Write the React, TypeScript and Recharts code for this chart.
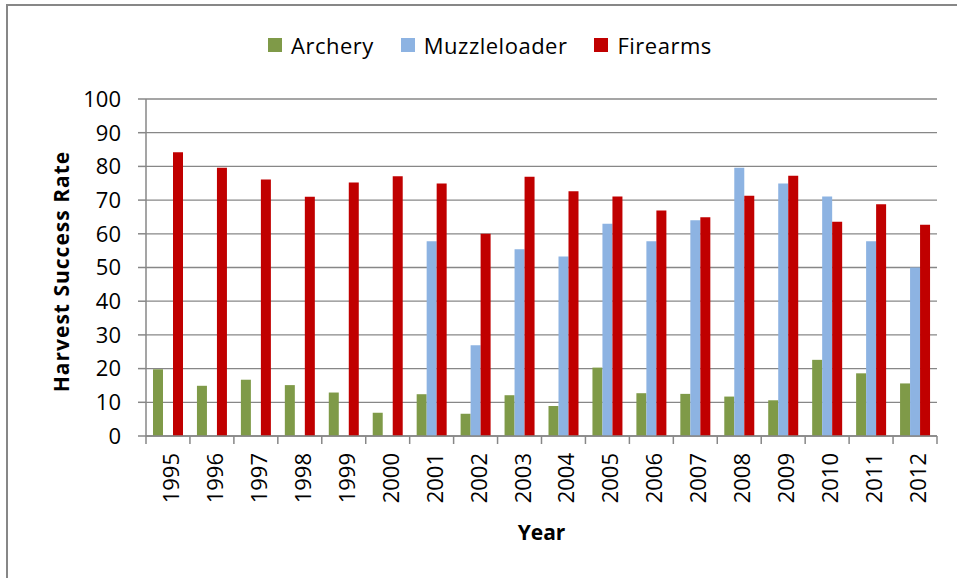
import { BarChart, Bar, XAxis, YAxis, CartesianGrid, Legend } from "recharts";

const years = ["1995", "1996", "1997", "1998", "1999", "2000", "2001", "2002", "2003", "2004", "2005", "2006", "2007", "2008", "2009", "2010", "2011", "2012"];
const archery = [19.8, 14.9, 16.7, 15.1, 12.9, 6.9, 12.4, 6.6, 12.1, 8.9, 20.3, 12.7, 12.5, 11.7, 10.6, 22.6, 18.6, 15.6];
const muzzleloader = [null, null, null, null, null, null, 57.8, 26.9, 55.4, 53.3, 63.0, 57.8, 64.0, 79.6, 74.9, 71.1, 57.8, 50.0];
const firearms = [84.2, 79.6, 76.1, 71.0, 75.2, 77.1, 74.9, 60.0, 76.9, 72.6, 71.1, 66.9, 64.9, 71.3, 77.2, 63.6, 68.8, 62.7];
const yTicks = [0, 10, 20, 30, 40, 50, 60, 70, 80, 90, 100];

const data = years.map((year, i) => ({
  year,
  archery: archery[i],
  muzzleloader: muzzleloader[i],
  firearms: firearms[i],
}));

const series = [
  { key: "archery", name: "Archery", color: "#7f9a48" },
  { key: "muzzleloader", name: "Muzzleloader", color: "#8db3e2" },
  { key: "firearms", name: "Firearms", color: "#c00000" },
];

const W = 957;
const H = 578;
const FONT = "'Open Sans', 'Liberation Sans', sans-serif";
const GRAY = "#878787";
const PLOT_LEFT = 146;
const PLOT_RIGHT = 937;
const PLOT_TOP = 99;
const PLOT_BOTTOM = 436;
const Y_AXIS_W = 60;
const X_AXIS_H = 110;
const STEP = (PLOT_RIGHT - PLOT_LEFT) / years.length;

function YearTick(props: any) {
  const { x, y, payload, index } = props;
  const left = x - STEP / 2;
  const right = x + STEP / 2;
  return (
    <g>
      <line x1={left} x2={left} y1={PLOT_BOTTOM} y2={PLOT_BOTTOM + 8} stroke={GRAY} strokeWidth={1.5} />
      {index === years.length - 1 && (
        <line x1={right} x2={right} y1={PLOT_BOTTOM} y2={PLOT_BOTTOM + 8} stroke={GRAY} strokeWidth={1.5} />
      )}
      <text
        x={x + 2}
        y={y}
        transform={`rotate(-90, ${x + 2}, ${y})`}
        textAnchor="end"
        dominantBaseline="central"
        fontFamily={FONT}
        fontSize={22}
        fill="#000"
      >
        {payload.value}
      </text>
    </g>
  );
}

function YTitle(props: any) {
  const { viewBox } = props;
  const cy = viewBox.y + viewBox.height / 2 + 4;
  const cx = 61;
  return (
    <text
      x={cx}
      y={cy}
      transform={`rotate(-90, ${cx}, ${cy})`}
      textAnchor="middle"
      dominantBaseline="central"
      fontFamily={FONT}
      fontSize={21}
      fontWeight="bold"
      letterSpacing={1}
      fill="#000"
    >
      Harvest Success Rate
    </text>
  );
}

function XTitle(props: any) {
  const { viewBox } = props;
  return (
    <text
      x={viewBox.x + viewBox.width / 2}
      y={532}
      textAnchor="middle"
      dominantBaseline="central"
      fontFamily={FONT}
      fontSize={21}
      fontWeight="bold"
      fill="#000"
    >
      Year
    </text>
  );
}

function LegendBox() {
  return (
    <div style={{ display: "flex", alignItems: "center", fontFamily: FONT, fontSize: 22, letterSpacing: 0.5, color: "#000", whiteSpace: "nowrap" }}>
      {series.map((s) => (
        <div key={s.key} style={{ display: "flex", alignItems: "center", marginRight: 27 }}>
          <span style={{ width: 14, height: 14, background: s.color, marginRight: 9, display: "inline-block" }} />
          <span>{s.name}</span>
        </div>
      ))}
    </div>
  );
}

export default function App() {
  return (
    <div style={{ position: "absolute", left: 0, top: 0, width: W, height: H, overflow: "hidden", background: "#fff" }}>
      <div
        style={{
          position: "absolute",
          left: 6,
          top: 4,
          width: 980,
          height: 620,
          borderLeft: `2px solid ${GRAY}`,
          borderTop: `2px solid ${GRAY}`,
        }}
      />
      <BarChart
        width={W}
        height={H}
        data={data}
        barGap={0}
        barSize={10}
        margin={{
          top: PLOT_TOP,
          right: W - PLOT_RIGHT,
          left: PLOT_LEFT - Y_AXIS_W,
          bottom: H - PLOT_BOTTOM - X_AXIS_H,
        }}
        style={{ position: "absolute", left: 0, top: 0 }}
      >
        <CartesianGrid vertical={false} stroke={GRAY} strokeWidth={1.3} />
        <XAxis
          dataKey="year"
          height={X_AXIS_H}
          interval={0}
          tickLine={false}
          tickSize={8}
          tickMargin={9}
          axisLine={{ stroke: GRAY, strokeWidth: 1.5 }}
          tick={<YearTick />}
          label={<XTitle />}
        />
        <YAxis
          width={Y_AXIS_W}
          domain={[0, 100]}
          ticks={yTicks}
          interval={0}
          tickSize={8}
          tickMargin={17}
          axisLine={{ stroke: GRAY, strokeWidth: 1.5 }}
          tickLine={{ stroke: GRAY, strokeWidth: 1.5 }}
          tick={{ fontFamily: FONT, fontSize: 22, fill: "#000" }}
          label={<YTitle />}
        />
        <Legend
          verticalAlign="middle"
          align="center"
          layout="horizontal"
          wrapperStyle={{ top: 30, left: 268, width: "auto" }}
          content={() => <LegendBox />}
        />
        {series.map((s) => (
          <Bar key={s.key} dataKey={s.key} name={s.name} fill={s.color} isAnimationActive={false} />
        ))}
      </BarChart>
    </div>
  );
}
